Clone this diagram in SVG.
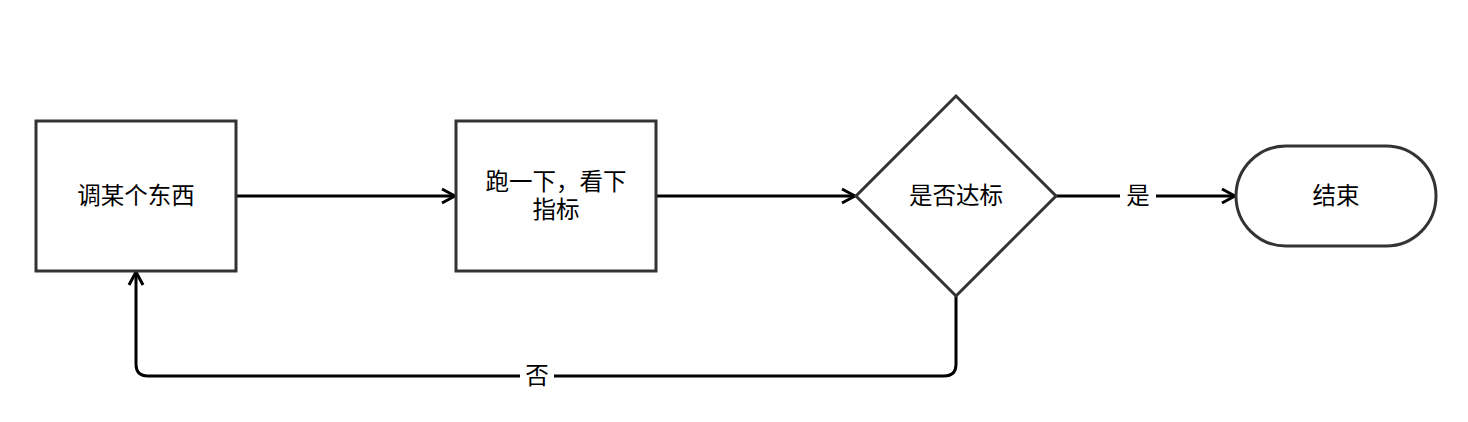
<svg xmlns="http://www.w3.org/2000/svg" width="1468" height="422" viewBox="0 0 1468 422">
<style>
.node{fill:#fff;stroke:#333;stroke-width:3}
.edge{fill:none;stroke:#000;stroke-width:3}
.t{font-family:"Liberation Sans","Noto Sans CJK SC",sans-serif;font-size:23.5px;fill:#000;text-anchor:middle}
.lbl{fill:#fff}
</style>
<defs>
<marker id="arr" viewBox="0 0 20 20" refX="17" refY="10" markerWidth="20" markerHeight="20" markerUnits="userSpaceOnUse" orient="auto">
<path d="M4 3 L17 10 L4 17" fill="none" stroke="#000" stroke-width="3"/>
</marker>
</defs>
<rect width="1468" height="422" fill="#fff"/>
<g id="connectors">
<path class="edge" d="M236 196 H455" marker-end="url(#arr)"/>
<path class="edge" d="M656 196 H855" marker-end="url(#arr)"/>
<path class="edge" d="M1056 196 H1235" marker-end="url(#arr)"/>
<path class="edge" d="M956 296 V364 Q956 376 944 376 H148 Q136 376 136 364 V272" marker-end="url(#arr)"/>
<rect class="lbl" x="1120" y="182" width="36" height="28"/>
<text class="t" x="1138" y="204">是</text>
<rect class="lbl" x="520" y="362" width="34" height="28"/>
<text class="t" x="537" y="384">否</text>
</g>
<g id="n1">
<rect class="node" x="36" y="121" width="200" height="150"/>
<text class="t" x="136" y="204">调某个东西</text>
</g>
<g id="n2">
<rect class="node" x="456" y="121" width="200" height="150"/>
<text class="t" x="556" y="190">跑一下，看下</text>
<text class="t" x="556" y="218">指标</text>
</g>
<g id="n3">
<path class="node" d="M956 96 L1056 196 L956 296 L856 196 Z"/>
<text class="t" x="956" y="204">是否达标</text>
</g>
<g id="n4">
<rect class="node" x="1236" y="146" width="200" height="100" rx="50" ry="50"/>
<text class="t" x="1336" y="204">结束</text>
</g>
</svg>
